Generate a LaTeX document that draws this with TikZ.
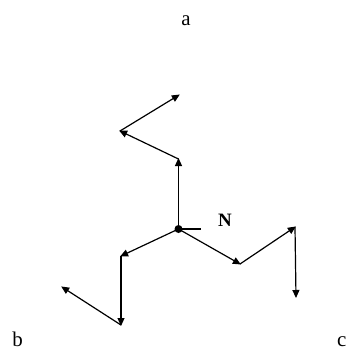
\documentclass[tikz,border=0pt]{standalone}
\usepackage{fontspec}
\setmainfont{Liberation Serif}
\usetikzlibrary{arrows.meta}
\begin{document}
\begin{tikzpicture}[x=1bp,y=-1bp,
  seg/.style={line width=1.2bp,-{Triangle[length=8bp,width=7bp]},shorten >=-1bp},
  lbl/.style={font=\fontsize{21}{22}\selectfont,inner sep=0pt}]
\useasboundingbox (0,0) rectangle (347,349);
\coordinate (O) at (178.5,229);
\coordinate (A1) at (178.5,159);
\coordinate (A2) at (120,131);
\coordinate (A3) at (179,95);
\coordinate (B1) at (121,256);
\coordinate (B2) at (121,325);
\coordinate (B3) at (62,287);
\coordinate (C1) at (240,264);
\coordinate (C2) at (295,227);
\coordinate (C3) at (296,297);
\coordinate (T) at (201,229);
\draw[seg] (O) -- (A1);
\draw[seg] (A1) -- (A2);
\draw[seg] (A2) -- (A3);
\draw[seg] (O) -- (B1);
\draw[seg] (B1) -- (B2);
\draw[seg] (B2) -- (B3);
\draw[seg] (O) -- (C1);
\draw[seg] (C1) -- (C2);
\draw[seg] (C2) -- (C3);
\draw[line width=1.2bp] (O) -- (T);
\fill (O) circle (4bp);
\node[lbl,font=\fontsize{19}{20}\selectfont\bfseries] (N) at (225,220) {N};
\node[lbl,anchor=base] (a) at (186,25) {a};
\node[lbl,anchor=base] (b) at (17.5,346) {b};
\node[lbl,anchor=base east] (c) at (346.5,346) {c};
\end{tikzpicture}
\end{document}
